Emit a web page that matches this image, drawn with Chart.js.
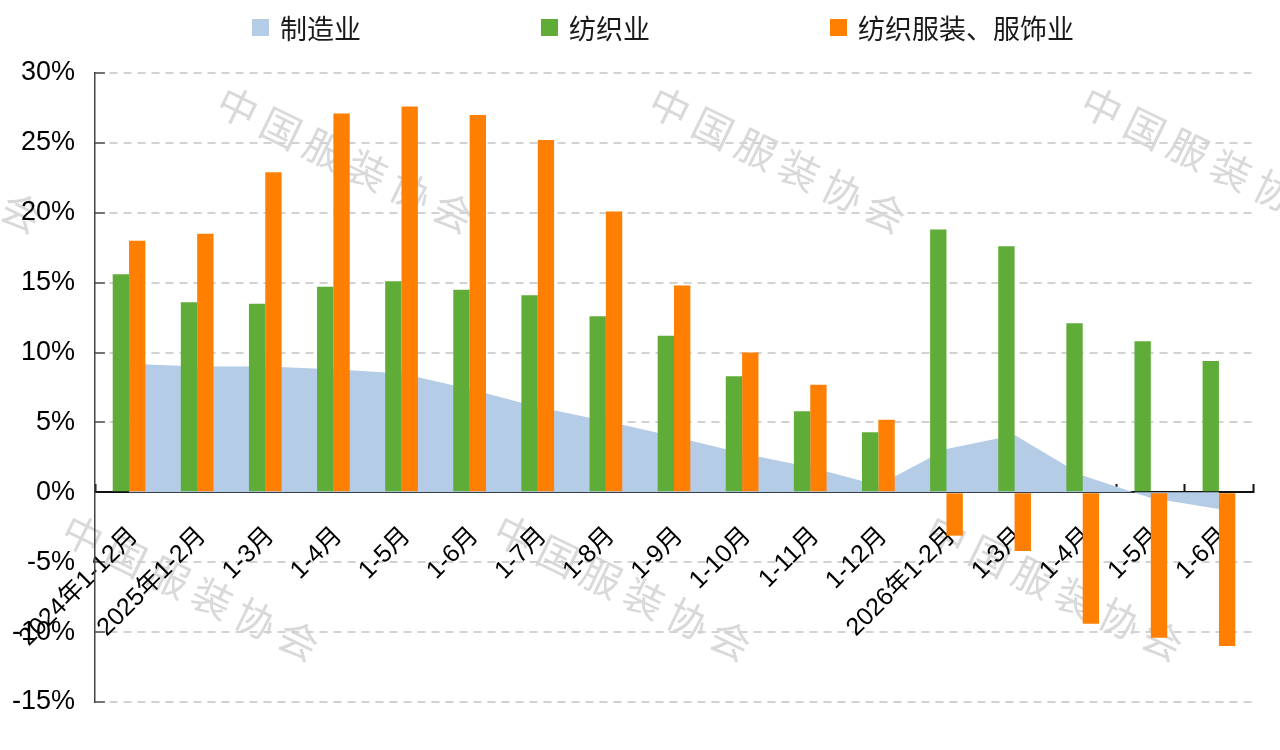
<!DOCTYPE html>
<html lang="zh-CN">
<head>
<meta charset="utf-8">
<title>制造业 / 纺织业 / 纺织服装、服饰业</title>
<script src="https://cdn.jsdelivr.net/npm/chart.js@4.4.1/dist/chart.umd.min.js"></script>
<style>
    html, body { margin: 0; padding: 0; background: #fff; }
    #wrap { position: relative; width: 1280px; height: 750px; }
    #legend { position: absolute; left: 0; top: 0; width: 1280px; height: 55px; font-family: "Noto Sans CJK SC", sans-serif; font-size: 27px; color: #1a1a1a; }
    .item { position: absolute; top: 9px; height: 36px; display: flex; align-items: center; white-space: nowrap; }
    .box { width: 17px; height: 17px; margin-right: 11px; }
</style>
</head>
<body>
<div id="wrap">
    <canvas id="mainChart" width="1280" height="750"></canvas>
    <div id="legend"></div>
</div>
<script>
// ===============================
// DATOS
// ===============================

const categories = [
    "2024年1-12月", "2025年1-2月", "1-3月", "1-4月", "1-5月", "1-6月", "1-7月", "1-8月",
    "1-9月", "1-10月", "1-11月", "1-12月", "2026年1-2月", "1-3月", "1-4月", "1-5月", "1-6月"
];

const seriesNames = ["制造业", "纺织业", "纺织服装、服饰业"];

const manufacturing = [9.2, 9.0, 9.0, 8.8, 8.5, 7.4, 6.1, 5.1, 4.0, 2.8, 1.8, 0.5, 3.1, 4.1, 1.2, -0.4, -1.2];
const textile = [15.6, 13.6, 13.5, 14.7, 15.1, 14.5, 14.1, 12.6, 11.2, 8.3, 5.8, 4.3, 18.8, 17.6, 12.1, 10.8, 9.4];
const apparel = [18.0, 18.5, 22.9, 27.1, 27.6, 27.0, 25.2, 20.1, 14.8, 10.0, 7.7, 5.2, -3.1, -4.2, -9.4, -10.4, -11.0];

const yTicks = [-15, -10, -5, 0, 5, 10, 15, 20, 25, 30];

const colors = ["#b4cce6", "#5fac38", "#fe7f02"];

const FONT = "'Liberation Sans', 'Noto Sans CJK SC', sans-serif";

// marca de agua "中国服装协会"
const watermark = {
    id: "watermark",
    beforeDraw(chart) {
        const ctx = chart.ctx;
        const text = "中国服装协会";
        const angle = 26 * Math.PI / 180;
        const step = 48;
        const starts = [[-194, 107], [238, 107], [670, 107], [1102, 107], [83, 535], [515, 535], [947, 535]];
        ctx.save();
        ctx.font = "40px 'Noto Sans CJK SC'";
        ctx.fillStyle = "#d9d9d9";
        ctx.textAlign = "center";
        ctx.textBaseline = "middle";
        starts.forEach(([x, y]) => {
            for (let i = 0; i < text.length; i++) {
                ctx.save();
                ctx.translate(x + i * step * Math.cos(angle), y + i * step * Math.sin(angle));
                ctx.rotate(angle);
                ctx.fillText(text[i], 0, 0);
                ctx.restore();
            }
        });
        ctx.restore();
    }
};

const ctx = document.getElementById("mainChart");

const chart = new Chart(ctx, {
    data: {
        labels: categories,
        datasets: [
            {
                type: "line",
                label: seriesNames[0],
                data: manufacturing,
                backgroundColor: colors[0],
                borderWidth: 0,
                pointRadius: 0,
                tension: 0,
                fill: "origin",
                order: 2
            },
            {
                type: "bar",
                label: seriesNames[1],
                data: textile,
                backgroundColor: colors[1],
                barPercentage: 1,
                categoryPercentage: 0.48,
                order: 1
            },
            {
                type: "bar",
                label: seriesNames[2],
                data: apparel,
                backgroundColor: colors[2],
                barPercentage: 1,
                categoryPercentage: 0.48,
                order: 1
            }
        ]
    },
    options: {
        responsive: false,
        animation: false,
        layout: {
            padding: { left: 0, right: 27, top: 73, bottom: 48 }
        },
        plugins: {
            legend: { display: false },
            tooltip: { enabled: false }
        },
        scales: {
            x: {
                position: { y: 0 },
                offset: true,
                afterFit(scale) {
                    scale.paddingLeft = 0;
                    scale.paddingRight = 0;
                },
                grid: {
                    offset: true,
                    drawOnChartArea: false,
                    drawTicks: true,
                    tickLength: -9,
                    tickColor: "#111",
                    tickWidth: 2
                },
                border: { display: true, color: "#111", width: 2 },
                ticks: {
                    autoSkip: false,
                    maxRotation: 45,
                    minRotation: 45,
                    padding: 38,
                    labelOffset: 5,
                    color: "#000",
                    font: { family: FONT, size: 25 }
                }
            },
            y: {
                min: -15,
                max: 30,
                afterFit(scale) {
                    scale.width = 95;
                },
                afterBuildTicks(scale) {
                    scale.ticks = yTicks.map(v => ({ value: v }));
                },
                grid: {
                    color: "#d2d2d2",
                    lineWidth: 2,
                    drawTicks: true,
                    tickLength: -10,
                    tickColor: "#555",
                    tickWidth: 1.5,
                    tickBorderDash: []
                },
                border: { display: true, color: "#444", width: 1.5, dash: [8, 6] },
                ticks: {
                    padding: 30,
                    color: "#000",
                    font: { family: FONT, size: 27 },
                    callback: v => v + "%"
                }
            }
        }
    },
    plugins: [watermark]
});

// ===============================
// LEYENDA
// ===============================

const legendLeft = [252, 541, 830];
const legendEl = document.getElementById("legend");
chart.data.datasets.forEach((ds, i) => {
    const item = document.createElement("div");
    item.className = "item";
    item.style.left = legendLeft[i] + "px";
    const box = document.createElement("span");
    box.className = "box";
    box.style.background = ds.backgroundColor;
    const label = document.createElement("span");
    label.textContent = ds.label;
    item.appendChild(box);
    item.appendChild(label);
    legendEl.appendChild(item);
});
</script>
</body>
</html>
